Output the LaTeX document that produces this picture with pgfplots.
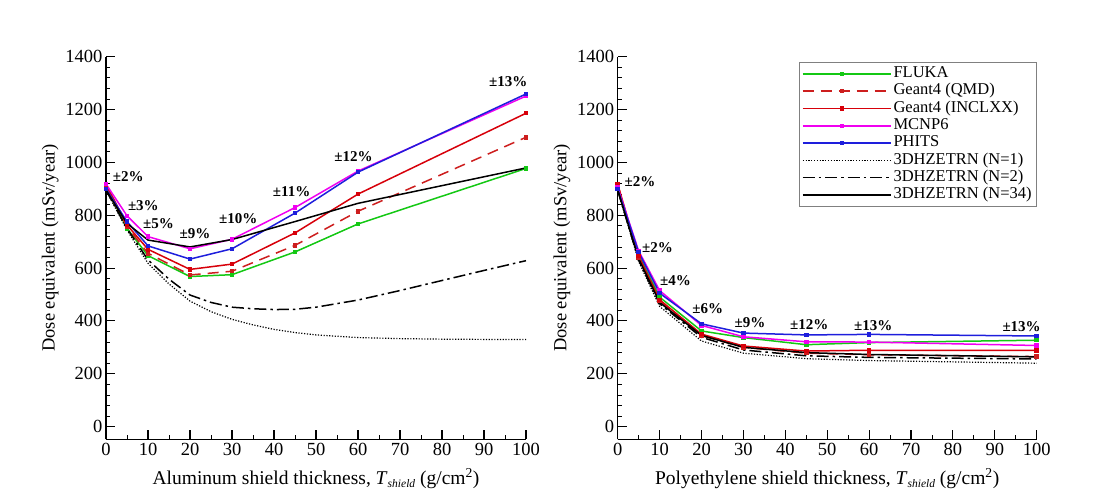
\documentclass[border=0pt]{standalone}
\usepackage{fontspec}
\setmainfont{Liberation Serif}
\usepackage{pgfplots}
\pgfplotsset{compat=1.18}
\definecolor{cgreen}{RGB}{20,200,20}
\definecolor{cred}{RGB}{215,0,10}
\definecolor{cred2}{RGB}{205,30,30}
\definecolor{cmag}{RGB}{240,0,240}
\definecolor{cblue}{RGB}{30,30,220}
\tikzset{pct/.style={font=\fontsize{15}{17}\selectfont\bfseries, inner sep=0pt}}
\pgfplotsset{
 base/.style={
  scale only axis, width=420pt, height=382.6pt,
  xmin=0,xmax=100,ymin=-48,ymax=1400,
  axis x line=bottom, axis y line=left,
  axis line style={-, line width=1.4pt},
  tick align=inside, major tick length=9pt, minor tick length=4.5pt,
  every tick/.style={black, line width=1.1pt},
  every minor tick/.style={black, line width=0.8pt},
  xtick={0,10,...,100}, minor x tick num=1,
  ytick={0,200,...,1400}, minor y tick num=4,
  tick label style={font=\fontsize{18.5}{20}\selectfont},
  xlabel style={font=\fontsize{19.5}{22}\selectfont, yshift=-6pt},
  ylabel style={font=\fontsize{18.5}{21}\selectfont},
  /pgf/number format/assume math mode=true,
  /pgf/number format/set thousands separator={},
  ylabel={Dose equivalent (mSv/year)},
  clip=false,
  anchor=south west,
  legend image code/.code={\path (0pt,0pt) -- (88pt,0pt);\draw[mark repeat=2,mark phase=2,##1] plot coordinates {(0pt,0pt) (39pt,0pt) (78pt,0pt)};},
 },
 fluka/.style={color=cgreen, line width=1.5pt, mark=square*, mark size=1.5pt},
 qmd/.style={color=cred2, line width=1.5pt, dash pattern=on 11pt off 7pt, mark=square*, mark size=1.5pt, mark options={solid}},
 incl/.style={color=cred, line width=1.5pt, mark=square*, mark size=1.5pt},
 mcnp/.style={color=cmag, line width=1.5pt, mark=square*, mark size=1.5pt},
 phits/.style={color=cblue, line width=1.5pt, mark=square*, mark size=1.5pt},
 nA/.style={black, line width=1.2pt, dash pattern=on 1.2pt off 1.6pt},
 nB/.style={black, line width=1.5pt, dash pattern=on 12pt off 4pt on 2.5pt off 4pt},
 nC/.style={black, line width=1.5pt},
}
\newcommand{\Tsh}{\textit{T}\raisebox{-0.35ex}{\fontsize{11.5}{12}\selectfont\textit{shield}}}
\begin{document}
\begin{tikzpicture}
\useasboundingbox (0,0) rectangle (1100pt,494pt);
% ---------- Left: Aluminum ----------
\begin{axis}[base, at={(106pt,54.7pt)},
  xlabel={Aluminum shield thickness, \Tsh\ (g/cm\textsuperscript{2})}]
\addplot[fluka] coordinates {(0,908) (5,750) (10,647) (20,568) (30,575) (45,661) (60,767) (100,977)};
\addplot[qmd] coordinates {(0,908) (5,757) (10,656) (20,574) (30,588) (45,686) (60,815) (100,1095)};
\addplot[incl] coordinates {(0,918) (5,763) (10,671) (20,595) (30,615) (45,733) (60,880) (100,1186)};
\addplot[mcnp] coordinates {(0,918) (5,798) (10,719) (20,673) (30,709) (45,829) (60,967) (100,1251)};
\addplot[phits] coordinates {(0,900) (5,776) (10,684) (20,634) (30,673) (45,808) (60,963) (100,1259)};
\addplot[nA] coordinates {(0,895) (5,744) (10,618) (15,540) (20,475) (25,435) (30,406) (35,385) (40,368) (45,356) (50,347) (60,337) (70,333) (80,331) (90,330) (100,330)};
\addplot[nB] coordinates {(0,895) (5,750) (10,631) (15,558) (20,498) (25,470) (30,452) (35,446) (40,443) (45,444) (50,452) (60,479) (70,515) (80,553) (90,591) (100,628)};
\addplot[nC] coordinates {(0,895) (5,769) (10,706) (20,680) (30,708) (45,776) (60,845) (100,979)};
\node[pct] at (axis cs:5.3,946) {±2\%};
\node[pct] at (axis cs:8.9,836) {±3\%};
\node[pct] at (axis cs:12.5,767) {±5\%};
\node[pct] at (axis cs:21.2,731) {±9\%};
\node[pct] at (axis cs:31.5,786) {±10\%};
\node[pct] at (axis cs:44.2,889) {±11\%};
\node[pct] at (axis cs:58.9,1022) {±12\%};
\node[pct] at (axis cs:95.8,1305) {±13\%};
\end{axis}
% ---------- Right: Polyethylene ----------
\begin{axis}[base, at={(617.7pt,54.7pt)}, width=419pt,
  xlabel={Polyethylene shield thickness, \Tsh\ (g/cm\textsuperscript{2})},
  legend cell align=left,
  legend style={at={(1,0.986)}, anchor=north east, draw=gray,
    font=\fontsize{16.5}{18}\selectfont,
    nodes={inner sep=1.9pt, text height=10.5pt, text depth=3pt},
    inner xsep=3pt, inner ysep=3pt}]
\addplot[fluka] coordinates {(0,900) (5,650) (10,490) (20,362) (30,337) (45,310) (60,318) (100,327)};
\addplot[qmd] coordinates {(0,915) (5,640) (10,475) (20,345) (30,300) (45,278) (60,272) (100,265)};
\addplot[incl] coordinates {(0,918) (5,645) (10,480) (20,350) (30,305) (45,286) (60,289) (100,289)};
\addplot[mcnp] coordinates {(0,905) (5,665) (10,515) (20,383) (30,340) (45,321) (60,320) (100,307)};
\addplot[phits] coordinates {(0,900) (5,660) (10,505) (20,389) (30,354) (45,347) (60,349) (100,343)};
\addplot[nA] coordinates {(0,895) (5,625) (10,455) (20,324) (30,278) (45,257) (60,250) (80,245) (100,240)};
\addplot[nB] coordinates {(0,895) (5,630) (10,465) (20,338) (30,290) (45,268) (60,262) (100,256)};
\addplot[nC] coordinates {(0,895) (5,635) (10,470) (20,345) (30,300) (45,280) (60,273) (100,264)};
\legend{FLUKA, Geant4 (QMD), Geant4 (INCLXX), MCNP6, PHITS, 3DHZETRN (N=1), 3DHZETRN (N=2), 3DHZETRN (N=34)}
\node[pct] at (axis cs:5.3,927) {±2\%};
\node[pct] at (axis cs:9.5,678) {±2\%};
\node[pct] at (axis cs:13.8,552) {±4\%};
\node[pct] at (axis cs:21.5,448) {±6\%};
\node[pct] at (axis cs:31.6,393) {±9\%};
\node[pct] at (axis cs:45.7,387) {±12\%};
\node[pct] at (axis cs:61.0,382) {±13\%};
\node[pct] at (axis cs:96.4,378) {±13\%};
\end{axis}
\end{tikzpicture}
\end{document}
